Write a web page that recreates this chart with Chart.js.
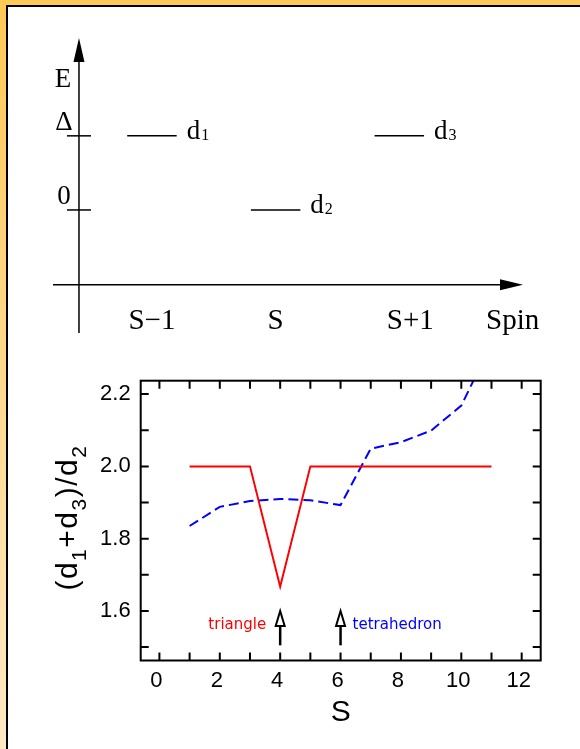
<!DOCTYPE html>
<html>
<head>
<meta charset="utf-8">
<script src="https://cdn.jsdelivr.net/npm/chart.js@4/dist/chart.umd.min.js"></script>
<style>
  body { margin: 0; background: #fff; width: 580px; height: 749px; overflow: hidden; position: relative; }
  #orangeTop { position: absolute; left: 0; top: 0; width: 580px; height: 5px; background: #ffc857; }
  #orangeLeft { position: absolute; left: 0; top: 0; width: 6px; height: 749px; background: linear-gradient(#ffc857, #ffe9c4); }
  #blackTop { position: absolute; left: 6px; top: 5px; width: 574px; height: 2px; background: #000; }
  #blackLeft { position: absolute; left: 6px; top: 5px; width: 2px; height: 744px; background: #000; }
  #levels { position: absolute; left: 0; top: 0; }
  #ratio { position: absolute; left: 0; top: 350px; }
</style>
</head>
<body>
<div id="orangeTop"></div>
<div id="orangeLeft"></div>
<div id="blackTop"></div>
<div id="blackLeft"></div>
<canvas id="levels" width="580" height="350"></canvas>
<canvas id="ratio" width="580" height="399"></canvas>
<script>
// energy level scheme (top)
var levelNames = ['d1', 'd2', 'd3'];
var levelSpin = [1, 2, 3];       // S-1, S, S+1
var levelEnergy = [1, 0, 1];     // Delta, 0, Delta
var spinLabels = ['S\u22121', 'S', 'S+1'];
var energyTickValues = [1, 0];
var energyTickLabels = ['\u0394', '0'];

// ratio (d1+d3)/d2 vs S (bottom)
var spinS = [1, 2, 3, 4, 5, 6, 7, 8, 9, 10, 11];
var triangleRatio = [2.0, 2.0, 2.0, 1.667, 2.0, 2.0, 2.0, 2.0, 2.0, 2.0, 2.0];
var tetrahedronRatio = [1.835, 1.888, 1.904, 1.910, 1.906, 1.893, 2.049, 2.067, 2.099, 2.168, 2.34];
var markerS = [4, 6];
var markerNames = ['triangle', 'tetrahedron'];
var markerColors = ['#ff0000', '#0000ff'];

var serif = '"Liberation Serif", "Times New Roman", serif';
var sans = '"Liberation Sans", Arial, sans-serif';

function levelData(i) {
    return [{ x: levelSpin[i] - 0.2, y: levelEnergy[i] }, { x: levelSpin[i] + 0.2, y: levelEnergy[i] }];
}

var levelAxes = {
    id: 'levelAxes',
    afterDatasetsDraw: function (chart) {
        var ctx = chart.ctx, a = chart.chartArea;
        var xs = chart.scales.x, ys = chart.scales.y;
        var ox = xs.getPixelForValue(0.41);
        var oy = ys.getPixelForValue(-1.01);
        ctx.save();
        ctx.strokeStyle = '#000';
        ctx.fillStyle = '#000';
        ctx.lineWidth = 1.5;
        // vertical energy axis with arrow
        ctx.beginPath(); ctx.moveTo(ox, a.bottom); ctx.lineTo(ox, a.top + 20); ctx.stroke();
        ctx.beginPath(); ctx.moveTo(ox, a.top); ctx.lineTo(ox - 5.5, a.top + 24); ctx.lineTo(ox + 5.5, a.top + 24); ctx.closePath(); ctx.fill();
        // horizontal spin axis with arrow
        ctx.beginPath(); ctx.moveTo(a.left, oy); ctx.lineTo(a.right - 20, oy); ctx.stroke();
        ctx.beginPath(); ctx.moveTo(a.right, oy); ctx.lineTo(a.right - 23, oy - 5.5); ctx.lineTo(a.right - 23, oy + 5.5); ctx.closePath(); ctx.fill();

        ctx.font = '27px ' + serif;
        ctx.textAlign = 'center';
        ctx.textBaseline = 'alphabetic';
        energyTickValues.forEach(function (v, i) {
            var y = ys.getPixelForValue(v);
            ctx.beginPath(); ctx.moveTo(ox - 12, y); ctx.lineTo(ox + 12, y); ctx.stroke();
            ctx.fillText(energyTickLabels[i], ox - 15, y - 6);
        });
        ctx.fillText('E', ox - 16, a.top + 49);

        ctx.font = '29px ' + serif;
        var shift = [0, 0, 11];
        spinLabels.forEach(function (t, i) {
            ctx.fillText(t, xs.getPixelForValue(levelSpin[i]) + shift[i], oy + 44);
        });
        ctx.textAlign = 'left';
        ctx.fillText('Spin', 486, oy + 44);

        // level names with subscripts
        levelNames.forEach(function (n, i) {
            var x = xs.getPixelForValue(levelSpin[i] + 0.2) + 10;
            var y = ys.getPixelForValue(levelEnergy[i]) + 3.5;
            ctx.font = '27px ' + serif;
            ctx.fillText(n.charAt(0), x, y);
            var w = ctx.measureText(n.charAt(0)).width;
            ctx.font = '16px ' + serif;
            ctx.fillText(n.slice(1), x + w + 1, y + 1);
        });
        ctx.restore();
    }
};

new Chart(document.getElementById('levels'), {
    type: 'scatter',
    data: {
        datasets: levelNames.map(function (n, i) {
            return {
                label: n,
                data: levelData(i),
                showLine: true,
                borderColor: '#000',
                borderWidth: 1.5,
                pointRadius: 0
            };
        })
    },
    options: {
        responsive: false,
        animation: false,
        layout: { padding: { left: 53, right: 57, top: 38, bottom: 17 } },
        plugins: { legend: { display: false }, tooltip: { enabled: false } },
        scales: {
            x: { type: 'linear', display: false, min: 0.2, max: 4.0 },
            y: { type: 'linear', display: false, min: -1.66, max: 2.32 }
        }
    },
    plugins: [levelAxes]
});

var ratioFrame = {
    id: 'ratioFrame',
    afterDatasetsDraw: function (chart) {
        var ctx = chart.ctx, a = chart.chartArea;
        var xs = chart.scales.x, ys = chart.scales.y;
        ctx.save();
        ctx.strokeStyle = '#000';
        ctx.lineWidth = 2;
        ctx.strokeRect(a.left, a.top, a.right - a.left, a.bottom - a.top);
        // inward ticks on all four sides
        ctx.beginPath();
        xs.ticks.forEach(function (t) {
            var x = xs.getPixelForValue(t.value);
            ctx.moveTo(x, a.bottom); ctx.lineTo(x, a.bottom - 8);
            ctx.moveTo(x, a.top); ctx.lineTo(x, a.top + 8);
        });
        ys.ticks.forEach(function (t) {
            var y = ys.getPixelForValue(t.value);
            ctx.moveTo(a.left, y); ctx.lineTo(a.left + 8, y);
            ctx.moveTo(a.right, y); ctx.lineTo(a.right - 8, y);
        });
        ctx.stroke();

        // arrows marking the triangle / tetrahedron sizes
        markerS.forEach(function (s, i) {
            var x = xs.getPixelForValue(s);
            var tip = ys.getPixelForValue(1.6);
            var foot = ys.getPixelForValue(1.505);
            ctx.lineWidth = 2.5;
            ctx.beginPath(); ctx.moveTo(x, tip + 15); ctx.lineTo(x, foot); ctx.stroke();
            ctx.lineWidth = 2;
            ctx.fillStyle = '#fff';
            ctx.beginPath(); ctx.moveTo(x, tip); ctx.lineTo(x - 4.5, tip + 15); ctx.lineTo(x + 4.5, tip + 15); ctx.closePath();
            ctx.fill(); ctx.stroke();

            ctx.font = '15px "DejaVu Sans", sans-serif';
            ctx.fillStyle = markerColors[i];
            ctx.textBaseline = 'middle';
            if (i === 0) {
                ctx.textAlign = 'right';
                ctx.fillText(markerNames[i], x - 14, tip + 14);
            } else {
                ctx.textAlign = 'left';
                ctx.fillText(markerNames[i], x + 12, tip + 14);
            }
        });

        // y axis title (d1+d3)/d2 with subscripts
        var parts = [['(d', 0], ['1', 1], ['+d', 0], ['3', 1], [')/d', 0], ['2', 1]];
        var big = '30px ' + sans, small = '21px ' + sans;
        ctx.letterSpacing = '1.5px';
        var total = 0;
        parts.forEach(function (p) { ctx.font = p[1] ? small : big; total += ctx.measureText(p[0]).width; });
        ctx.translate(76.5, (a.top + a.bottom) / 2 - 3);
        ctx.rotate(-Math.PI / 2);
        ctx.fillStyle = '#000';
        ctx.textAlign = 'left';
        ctx.textBaseline = 'alphabetic';
        var u = -total / 2;
        parts.forEach(function (p) {
            ctx.font = p[1] ? small : big;
            ctx.fillText(p[0], u, p[1] ? 9 : 0);
            u += ctx.measureText(p[0]).width;
        });
        ctx.restore();
    }
};

new Chart(document.getElementById('ratio'), {
    type: 'line',
    data: {
        datasets: [{
            label: 'triangle',
            data: spinS.map(function (s, i) { return { x: s, y: triangleRatio[i] }; }),
            borderColor: '#ff0000',
            borderWidth: 2,
            pointRadius: 0,
            tension: 0
        }, {
            label: 'tetrahedron',
            data: spinS.map(function (s, i) { return { x: s, y: tetrahedronRatio[i] }; }),
            borderColor: '#0000ff',
            borderWidth: 2,
            borderDash: [10, 5],
            pointRadius: 0,
            tension: 0
        }]
    },
    options: {
        responsive: false,
        animation: false,
        layout: { padding: { left: 0, right: 39.3, top: 30.7, bottom: 0 } },
        plugins: { legend: { display: false }, tooltip: { enabled: false } },
        scales: {
            x: {
                type: 'linear', min: -0.62, max: 12.63,
                grid: { display: false, drawTicks: false }, border: { display: false },
                ticks: {
                    stepSize: 1, includeBounds: false, autoSkip: false, maxRotation: 0,
                    padding: 7, labelOffset: -3, color: '#000', font: { family: sans, size: 22 },
                    callback: function (v) { var n = Math.round(v); return n % 2 === 0 ? String(n) : ''; }
                },
                title: { display: true, text: 'S', color: '#000', font: { family: sans, size: 30 }, padding: { top: 0, bottom: 18 } },
                afterFit: function (s) { s.height = 88.5; }
            },
            y: {
                type: 'linear', min: 1.463, max: 2.237,
                grid: { display: false, drawTicks: false }, border: { display: false },
                ticks: {
                    stepSize: 0.1, includeBounds: false, autoSkip: false,
                    padding: 10, color: '#000', font: { family: sans, size: 22 },
                    callback: function (v) { var n = Math.round(v * 10); return n % 2 === 0 ? (n / 10).toFixed(1) : ''; }
                },
                afterFit: function (s) { s.width = 140.7; }
            }
        }
    },
    plugins: [ratioFrame]
});
</script>
</body>
</html>
